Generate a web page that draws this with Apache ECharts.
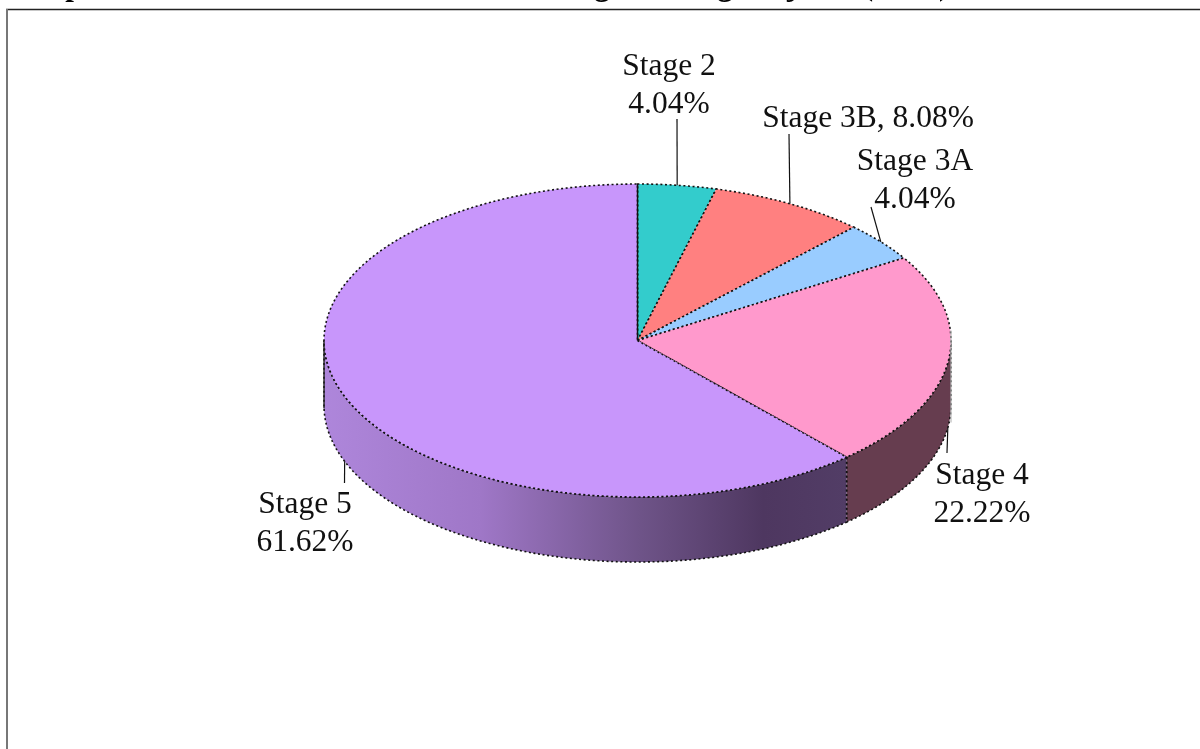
<!DOCTYPE html>
<html>
<head>
<meta charset="utf-8">
<title>CKD stages</title>
<script src="https://cdn.jsdelivr.net/npm/echarts@6/dist/echarts.min.js"></script>
<style>
    html, body { margin: 0; padding: 0; background: #fff; overflow: hidden; }
    #chart { width: 1200px; height: 749px; }
</style>
</head>
<body>
<div id="chart"></div>
<script>
// chart data
var stageNames = ['Stage 2', 'Stage 3B', 'Stage 3A', 'Stage 4', 'Stage 5'];
var stageValues = [4.04, 8.08, 4.04, 22.22, 61.62];
var stageSeparators = ['\n', ', ', '\n', '\n', '\n'];

// colours, top face then side wall
var topColors = ['#33CCCC', '#FF8080', '#99CCFF', '#FF99CC', '#C896FB'];
var sideColors = ['#147A7A', '#994D4D', '#5C7A99', '#663D4F', {
    type: 'linear', x: 0, y: 0, x2: 1, y2: 0,
    colorStops: [
        {offset: 0, color: '#AE86DB'},
        {offset: 0.3, color: '#9F77C7'},
        {offset: 0.6, color: '#6F5489'},
        {offset: 0.84, color: '#4E3760'},
        {offset: 1, color: '#523D66'}
    ]
}];

// pie geometry
var cx = 637.5, cy = 340.5, rx = 313.5, ry = 156.5, depth = 65;
// leader end and label centre/top, one per slice
var leaderEnds = [[677, 119], [789, 134], [871, 207], [947, 453], [344.5, 483]];
var labelPos = [[669, 48], [868, 100], [915, 143], [982, 457], [305, 486]];

var fontName = '"Liberation Serif", "Times New Roman", serif';
var totalValue = stageValues.reduce(function (a, b) { return a + b; }, 0);

function rimPoint(deg, drop) {
    var rad = deg * Math.PI / 180;
    return [cx + rx * Math.sin(rad), cy - ry * Math.cos(rad) + (drop || 0)];
}

function arcPoints(from, to, drop) {
    var pts = [];
    var steps = Math.max(2, Math.ceil(Math.abs(to - from)));
    for (var i = 0; i <= steps; i++) {
        pts.push(rimPoint(from + (to - from) * i / steps, drop));
    }
    return pts;
}

var dotted = {stroke: '#111', lineWidth: 1.6, lineDash: [2, 2.6]};

function renderSlice(params, api) {
    var i = params.dataIndex;
    var before = 0;
    for (var k = 0; k < i; k++) {
        before += stageValues[k];
    }
    var start = before / totalValue * 360;
    var end = start + api.value(0) / totalValue * 360;
    var mid = (start + end) / 2;
    var children = [];

    // side wall only shows on the front half
    var sideFrom = Math.max(start, 90), sideTo = Math.min(end, 270);
    if (sideTo > sideFrom) {
        var wall = arcPoints(sideFrom, sideTo, 0).concat(arcPoints(sideTo, sideFrom, depth));
        children.push({
            type: 'polygon', z2: 1,
            shape: {points: wall},
            style: Object.assign({fill: sideColors[i]}, dotted)
        });
    }

    // top face
    var face = [[cx, cy]].concat(arcPoints(start, end, 0));
    children.push({
        type: 'polygon', z2: 2,
        shape: {points: face},
        style: Object.assign({fill: topColors[i]}, dotted)
    });

    // leader line, from the lowest visible rim edge
    var onFront = mid > 90 && mid < 270;
    var from = rimPoint(mid, onFront ? depth : 0);
    children.push({
        type: 'line', z2: 3,
        shape: {x1: from[0], y1: from[1], x2: leaderEnds[i][0], y2: leaderEnds[i][1]},
        style: {stroke: '#111', lineWidth: 1.2}
    });

    children.push({
        type: 'text', z2: 4,
        style: {
            text: stageNames[i] + stageSeparators[i] + api.value(0).toFixed(2) + '%',
            x: labelPos[i][0], y: labelPos[i][1],
            align: 'center', verticalAlign: 'top',
            fontFamily: fontName, fontSize: 31.5, lineHeight: 38, fill: '#111'
        }
    });

    return {type: 'group', children: children};
}

var myChart = echarts.init(document.getElementById('chart'));
var option = {
    animation: false,
    backgroundColor: '#fff',
    graphic: [
        // title sits above the page edge, only its descenders show
        {type: 'text', left: 12, top: -29, z: 1, style: {
            text: 'Graph 5:  Distribution of  Renal Disease Stages among subjects  (n=99)',
            fontFamily: fontName, fontSize: 31, fontWeight: 'bold', fill: '#000'
        }},
        {type: 'line', z: 1, shape: {x1: 6, y1: 9.5, x2: 1200, y2: 9.5}, style: {stroke: '#222', lineWidth: 1.5}},
        {type: 'line', z: 1, shape: {x1: 7, y1: 9, x2: 7, y2: 749}, style: {stroke: '#777', lineWidth: 2}},
        {type: 'line', z: 10, shape: {x1: cx, y1: cy - ry, x2: cx, y2: cy}, style: {stroke: '#111', lineWidth: 1.4}},
        {type: 'line', z: 10, shape: {x1: cx - rx, y1: cy, x2: cx - rx, y2: cy + depth + 3}, style: {stroke: '#222', lineWidth: 1.4}},
        {type: 'line', z: 10, shape: {x1: cx + rx, y1: cy - 10, x2: cx + rx, y2: cy + depth + 17}, style: {stroke: '#bbb', lineWidth: 1.2}}
    ],
    series: [
        {
            type: 'custom',
            coordinateSystem: 'none',
            renderItem: renderSlice,
            data: stageValues.map(function (v) { return [v]; })
        }
    ]
};
myChart.setOption(option);
</script>
</body>
</html>
